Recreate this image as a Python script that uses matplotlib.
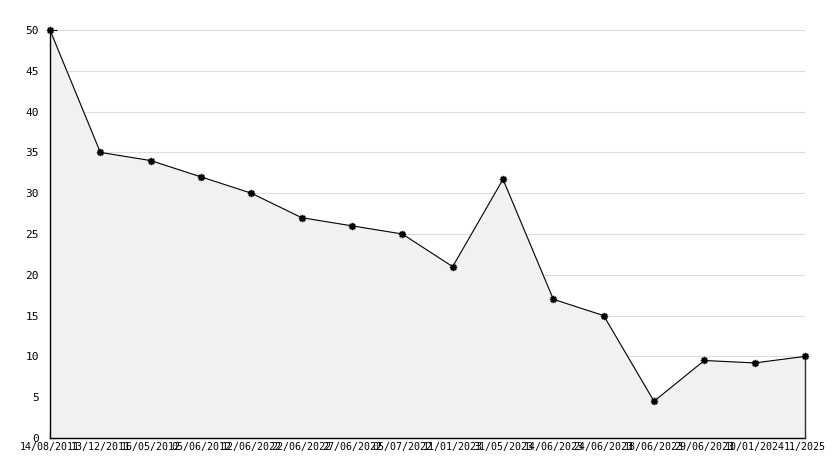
import numpy as np
import matplotlib.pyplot as plt
from matplotlib.ticker import MultipleLocator

# dates on the x axis (labels overlap in the original too)
date_labels = ['14/08/2011', '13/12/2011', '16/05/2012', '05/06/2012',
               '12/06/2022', '22/06/2022', '27/06/2022', '05/07/2022',
               '11/01/2023', '31/05/2023', '14/06/2023', '24/06/2023',
               '18/06/2023', '29/06/2023', '10/01/2024', '11/2025']
values = [50, 35, 34, 32, 30, 27, 26, 25, 21, 31.7, 17, 15, 4.5, 9.5, 9.2, 10]

fig = plt.figure(figsize=(8.34, 4.68), dpi=100)
ax = fig.add_axes([50 / 834, 30 / 468, 755 / 834, 408 / 468])

x = np.arange(len(values))
ax.fill_between(x, values, 0, color='#f1f1f1', zorder=1)
ax.plot(x, values, color='black', linewidth=0.8, zorder=3)
# right edge of the filled area
ax.plot([x[-1], x[-1]], [0, values[-1]], color='#333333', linewidth=1,
        zorder=3, clip_on=False)
ax.plot(x, values, linestyle='none', marker=(8, 1, 0), markersize=5,
        color='black', zorder=4, clip_on=False)

ax.set_xlim(0, len(values) - 1)
ax.set_ylim(0, 50)
ax.set_xticks(x)
ax.set_xticklabels(date_labels, fontfamily='DejaVu Sans Mono', fontsize=7.2)
ax.yaxis.set_major_locator(MultipleLocator(5))
ax.yaxis.set_minor_locator(MultipleLocator(1))
ax.tick_params(axis='y', which='major', direction='in', length=5, width=0.8,
               labelsize=8, pad=8)
ax.tick_params(axis='y', which='minor', direction='in', length=3, width=0.8)
ax.tick_params(axis='x', which='major', direction='in', length=5, width=0.8,
               pad=3)
for lbl in ax.get_yticklabels():
    lbl.set_fontfamily('DejaVu Sans Mono')

ax.grid(axis='y', color='#dddddd', linewidth=0.8, zorder=0)
ax.set_axisbelow(True)
ax.spines['top'].set_visible(False)
ax.spines['right'].set_visible(False)
ax.spines['left'].set_linewidth(1)
ax.spines['bottom'].set_linewidth(1)

plt.savefig('out.png', dpi=100)
